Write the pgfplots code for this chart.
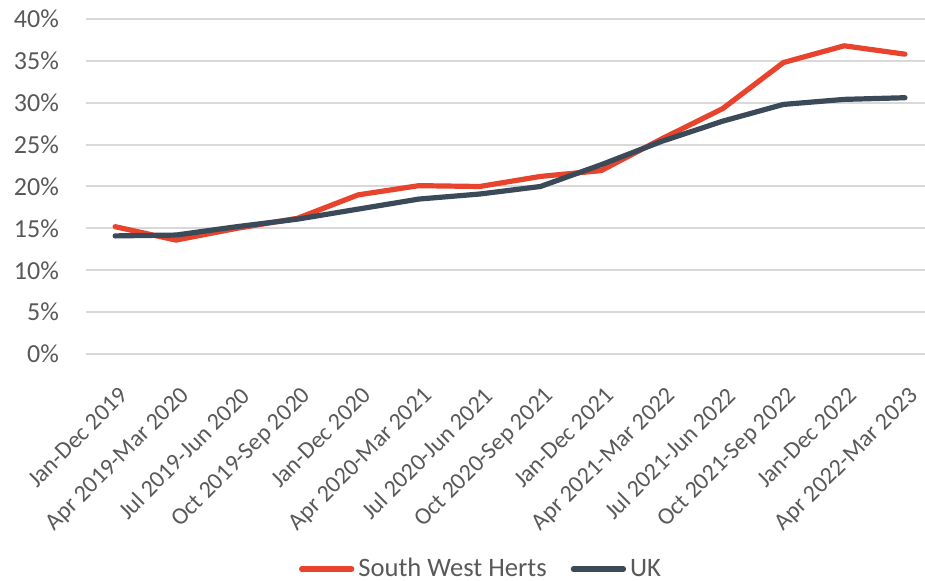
\documentclass[border=0pt]{standalone}
\usepackage{fontspec}
\setmainfont{Carlito}
\usepackage{pgfplots}
\pgfplotsset{compat=1.18}
\definecolor{swh}{HTML}{E8432D}
\definecolor{uk}{HTML}{3B4A58}
\definecolor{txt}{HTML}{595959}
\definecolor{gridc}{HTML}{D9D9D9}
\begin{document}
\begin{tikzpicture}
\begin{axis}[
  scale only axis,
  width=419.5pt, height=167.5pt,
  xmin=-0.48, xmax=13.33,
  ymin=0, ymax=40,
  ytick={0,5,...,40},
  yticklabel={\pgfmathprintnumber{\tick}\%},
  /pgf/number format/assume math mode=true,
  xtick={0,...,13},
  xticklabels={Jan-Dec 2019,Apr 2019-Mar 2020,Jul 2019-Jun 2020,Oct 2019-Sep 2020,Jan-Dec 2020,Apr 2020-Mar 2021,Jul 2020-Jun 2021,Oct 2020-Sep 2021,Jan-Dec 2021,Apr 2021-Mar 2022,Jul 2021-Jun 2022,Oct 2021-Sep 2022,Jan-Dec 2022,Apr 2022-Mar 2023},
  yticklabel shift=10pt,
  y tick label style={font=\fontsize{13}{15}\selectfont, text=txt},
  x tick label style={rotate=45, anchor=north east, inner sep=1pt, yshift=-11pt, xshift=-9pt,
    font=\fontsize{12}{14}\selectfont, text=txt},
  major tick length=0pt,
  axis line style={draw=none},
  xmajorgrids=false,
  ymajorgrids, grid style={draw=gridc, line width=1pt},
  legend style={at={(0.472,-0.642)}, anchor=center, draw=none, fill=none,
    legend columns=2, font=\fontsize{13.3}{16}\selectfont, text=txt,
    /tikz/every even column/.append style={column sep=10pt}},
  legend image code/.code={\draw[#1, line width=2.6pt, line cap=round] (0cm,0cm) -- (0.88cm,0cm);},
  clip=false,
]
\addplot[swh, line width=2.6pt, line join=round, line cap=round] coordinates {
(0,15.2) (1,13.6) (2,15.0) (3,16.2) (4,19.0) (5,20.1) (6,20.0) (7,21.2) (8,21.9) (9,25.7) (10,29.3) (11,34.8) (12,36.8) (13,35.8)};
\addlegendentry{South West Herts}
\addplot[uk, line width=2.6pt, line join=round, line cap=round] coordinates {
(0,14.1) (1,14.2) (2,15.2) (3,16.1) (4,17.3) (5,18.5) (6,19.1) (7,20.0) (8,22.6) (9,25.4) (10,27.8) (11,29.8) (12,30.4) (13,30.6)};
\addlegendentry{UK}
\end{axis}
\pgfresetboundingbox
\path (-43pt,-113.5pt) rectangle (419.5pt,177pt);
\end{tikzpicture}
\end{document}
